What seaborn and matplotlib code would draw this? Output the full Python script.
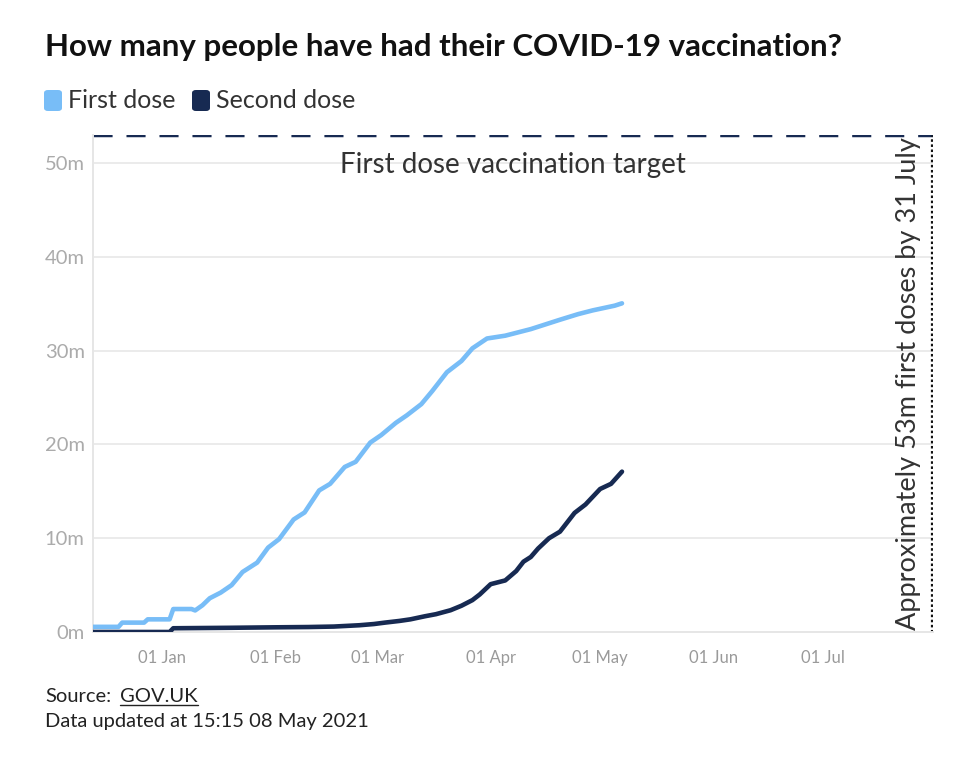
import pandas as pd
import matplotlib
matplotlib.use("Agg")
import matplotlib.pyplot as plt
import matplotlib.dates as mdates
from matplotlib.patches import FancyBboxPatch
import seaborn as sns

# cumulative people vaccinated, millions
first_dates = ["2020-12-13", "2020-12-20", "2020-12-21", "2020-12-27", "2020-12-28",
               "2021-01-03", "2021-01-04", "2021-01-09", "2021-01-10", "2021-01-12",
               "2021-01-14", "2021-01-17", "2021-01-20", "2021-01-23", "2021-01-27",
               "2021-01-30", "2021-02-02", "2021-02-06", "2021-02-09", "2021-02-13",
               "2021-02-16", "2021-02-20", "2021-02-23", "2021-02-27", "2021-03-02",
               "2021-03-06", "2021-03-09", "2021-03-13", "2021-03-16", "2021-03-20",
               "2021-03-24", "2021-03-27", "2021-03-31", "2021-04-05", "2021-04-08",
               "2021-04-12", "2021-04-16", "2021-04-20", "2021-04-25", "2021-04-29",
               "2021-05-02", "2021-05-05", "2021-05-07"]
first_values = [0.55, 0.55, 1.00, 1.00, 1.35,
                1.35, 2.45, 2.45, 2.30, 2.85,
                3.60, 4.20, 5.00, 6.40, 7.40,
                9.00, 9.90, 12.00, 12.75, 15.10,
                15.80, 17.60, 18.15, 20.20, 21.00,
                22.30, 23.10, 24.30, 25.70, 27.70,
                28.90, 30.25, 31.30, 31.60, 31.90,
                32.30, 32.80, 33.30, 33.90, 34.30,
                34.55, 34.80, 35.05]

second_dates = ["2020-12-13", "2021-01-03", "2021-01-04", "2021-01-20", "2021-02-01",
                "2021-02-10", "2021-02-17", "2021-02-24", "2021-02-28", "2021-03-03",
                "2021-03-07", "2021-03-10", "2021-03-14", "2021-03-17", "2021-03-21",
                "2021-03-24", "2021-03-27", "2021-03-29", "2021-04-01", "2021-04-05",
                "2021-04-08", "2021-04-10", "2021-04-12", "2021-04-14", "2021-04-17",
                "2021-04-20", "2021-04-24", "2021-04-27", "2021-05-01", "2021-05-04",
                "2021-05-07"]
second_values = [0.00, 0.00, 0.40, 0.45, 0.50,
                 0.53, 0.58, 0.72, 0.85, 1.00,
                 1.18, 1.35, 1.68, 1.90, 2.32,
                 2.80, 3.40, 4.00, 5.10, 5.50,
                 6.50, 7.50, 8.00, 8.90, 10.00,
                 10.70, 12.70, 13.60, 15.25, 15.80,
                 17.10]

target = 53
target_date = "2021-07-31"
light_blue = "#78bdf7"
navy = "#172a52"

df = pd.concat([
    pd.DataFrame({"date": pd.to_datetime(first_dates), "people": first_values, "dose": "First dose"}),
    pd.DataFrame({"date": pd.to_datetime(second_dates), "people": second_values, "dose": "Second dose"}),
])

sns.set_theme(style="white")
plt.rcParams["font.family"] = ["Lato", "DejaVu Sans"]

fig = plt.figure(figsize=(9.74, 7.7), dpi=100)
ax = fig.add_axes([93 / 974, 1 - 632 / 770, (933 - 93) / 974, (632 - 135) / 770])

sns.lineplot(data=df, x="date", y="people", hue="dose",
             palette={"First dose": light_blue, "Second dose": navy},
             linewidth=3.3, legend=False, ax=ax, zorder=3)
for ln in ax.lines:
    ln.set_solid_joinstyle("round")
    ln.set_solid_capstyle("round")

ax.axhline(target, color=navy, linestyle=(0, (5.5, 4)), linewidth=2.5, zorder=2)
ax.axvline(pd.Timestamp(target_date), color="#111111", linestyle=(0, (0.8, 0.8)),
           linewidth=2.3, zorder=2)

ax.set_xlim(pd.Timestamp("2020-12-13"), pd.Timestamp("2021-07-31 06:00"))
ax.set_ylim(0, target)
ax.set_yticks([0, 10, 20, 30, 40, 50])
ax.set_yticklabels([f"{v}m" for v in [0, 10, 20, 30, 40, 50]])
ax.xaxis.set_major_locator(mdates.MonthLocator(bymonthday=1))
ax.xaxis.set_major_formatter(mdates.DateFormatter("%d %b"))
ax.grid(axis="y", color="#ebebeb", linewidth=1.4, zorder=0)
ax.set_xlabel("")
ax.set_ylabel("")

for side in ["top", "right"]:
    ax.spines[side].set_visible(False)
for side in ["left", "bottom"]:
    ax.spines[side].set_color("#e6e6e6")
    ax.spines[side].set_linewidth(1.4)
ax.tick_params(axis="x", colors="#e0e0e0", length=9, width=1.4, labelcolor="#9a9a9a",
               labelsize=12, pad=4)
ax.tick_params(axis="y", length=0, labelcolor="#ababab", labelsize=14.5, pad=6)

ax.text(0.5, 49.8, "First dose vaccination target", transform=ax.get_yaxis_transform(),
        ha="center", va="center", fontsize=20, color="#333333")
ax.text(pd.Timestamp("2021-07-24 12:00"), 26.5, "Approximately 53m first doses by 31 July",
        rotation=90, ha="center", va="center", fontsize=19.5, color="#333333")

# title, legend and footer
fig.text(45 / 974, 1 - 47 / 770, "How many people have had their COVID-19 vaccination?",
         fontsize=22.5, fontweight="bold", color="#111111", va="center")

for x0, label, colour in [(44, "First dose", light_blue), (192, "Second dose", navy)]:
    fig.patches.append(FancyBboxPatch((x0 / 974, 1 - 111 / 770), 18 / 974, 21 / 770,
                                      boxstyle="round,pad=0,rounding_size=0.004",
                                      transform=fig.transFigure, facecolor=colour,
                                      edgecolor="none"))
    fig.text((x0 + 24) / 974, 1 - 100 / 770, label, fontsize=18, color="#333333", va="center")

fig.text(45 / 974, 1 - 697 / 770, "Source:", fontsize=14.5, color="#222222", va="center")
src = fig.text(120 / 974, 1 - 697 / 770, "GOV.UK", fontsize=14.5, color="#222222", va="center")
fig.text(45 / 974, 1 - 721 / 770, "Data updated at 15:15 08 May 2021", fontsize=14.5,
         color="#222222", va="center")

fig.canvas.draw()
bb = src.get_window_extent()
fig.add_artist(plt.Line2D([bb.x0 / 974, bb.x1 / 974], [(bb.y0 + 1) / 770, (bb.y0 + 1) / 770],
                          transform=fig.transFigure, color="#222222", linewidth=1))

fig.savefig("out.png", dpi=100)
